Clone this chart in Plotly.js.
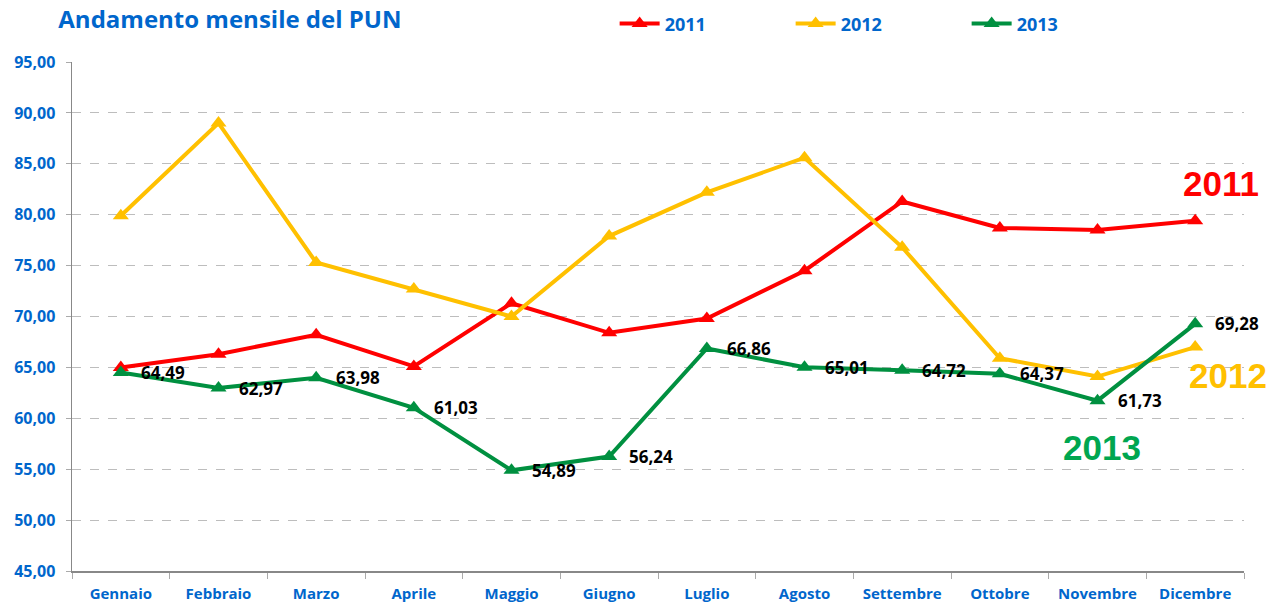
<!DOCTYPE html>
<html><head><meta charset="utf-8">
<script src="https://cdn.plot.ly/plotly-3.0.1.min.js"></script>
<style>body{margin:0;background:#fff}#chart{width:1268px;height:602px}</style>
</head><body><div id="chart"></div>
<script>
const months = ["Gennaio","Febbraio","Marzo","Aprile","Maggio","Giugno","Luglio","Agosto","Settembre","Ottobre","Novembre","Dicembre"];
const pun2011 = [65.0,66.3,68.2,65.1,71.3,68.4,69.8,74.5,81.3,78.7,78.5,79.4];
const pun2012 = [79.9,89.0,75.3,72.7,70.0,77.9,82.2,85.6,76.8,65.9,64.1,67.0];
const pun2013 = [64.49,62.97,63.98,61.03,54.89,56.24,66.86,65.01,64.72,64.37,61.73,69.28];
const seriesNames = ["2011","2012","2013"];
const lineColors = ["#FF0000","#FFC000","#009040"];
const bigLabelColors = ["#FF0000","#FFC000","#00A650"];

const blue = "#0066CC";
const font = "Open Sans, Liberation Sans, sans-serif";
const allSeries = [pun2011, pun2012, pun2013];

const traces = allSeries.map((vals, i) => ({
  x: months, y: vals, name: seriesNames[i], type: "scatter", mode: "lines+markers",
  line: {color: lineColors[i], width: 4},
  marker: {symbol: "triangle-up", size: 14, color: lineColors[i]},
  cliponaxis: false
}));

const fmt = v => v.toFixed(2).replace(".", ",");
const annotations = pun2013.map((v, i) => ({
  x: months[i], y: v, text: fmt(v), showarrow: false,
  xanchor: "left", yanchor: "middle", xshift: 18, yshift: 0,
  font: {family: font, size: 17, color: "#000000", weight: 700}
}));
// big series labels
const bigLabelPos = [
  {x: "Dicembre", y: 83.1, xshift: 26},
  {x: "Dicembre", y: 64.25, xshift: 33},
  {x: "Novembre", y: 57.1, xshift: 4}
];
bigLabelPos.forEach((p, i) => annotations.push({
  x: p.x, y: p.y, text: seriesNames[i], showarrow: false, xshift: p.xshift,
  xanchor: "center", yanchor: "middle",
  font: {family: "Liberation Sans, Arial, sans-serif", size: 35, color: bigLabelColors[i], weight: 700}
}));

const layout = {
  width: 1268, height: 602,
  margin: {l: 72, r: 24, t: 62, b: 31, autoexpand: false},
  paper_bgcolor: "#ffffff", plot_bgcolor: "#ffffff",
  separators: ",.",
  title: {text: "Andamento mensile del PUN", x: 0.046, xanchor: "left", y: 0.968, yanchor: "middle",
    font: {family: font, size: 24, color: blue, weight: 700}},
  showlegend: true,
  legend: {orientation: "h", x: 0.463, y: 1.075, xanchor: "left", yanchor: "middle",
    entrywidth: 121, entrywidthmode: "pixels", itemwidth: 40,
    font: {family: font, size: 18, color: blue, weight: 700}},
  xaxis: {
    type: "category", range: [-0.5, 11.5], showgrid: false,
    showline: true, linecolor: "#888888", linewidth: 1.5,
    ticks: "outside", tickson: "boundaries", ticklen: 6, tickcolor: "#aaaaaa",
    ticklabelstandoff: 8,
    tickfont: {family: font, size: 15, color: blue, weight: 700}, fixedrange: true
  },
  yaxis: {
    range: [45, 95], dtick: 5, tickformat: ".2f",
    showgrid: true, gridcolor: "#bdbdbd", griddash: "dash", gridwidth: 1,
    showline: true, linecolor: "#888888", linewidth: 1.5,
    ticks: "outside", ticklen: 5, tickcolor: "#aaaaaa",
    ticklabelstandoff: 7,
    tickfont: {family: font, size: 16, color: blue, weight: 700},
    zeroline: false, fixedrange: true
  },
  annotations: annotations
};

Plotly.newPlot("chart", traces, layout, {displayModeBar: false, staticPlot: true});
</script></body></html>
